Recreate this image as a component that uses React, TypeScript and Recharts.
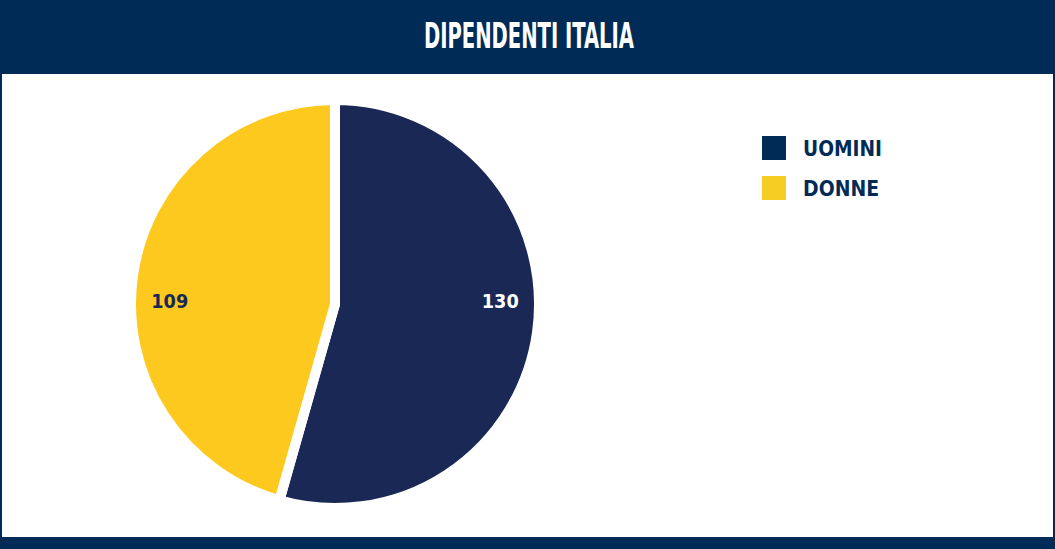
import React from 'react';
import { PieChart, Pie, Cell } from 'recharts';

const title = 'DIPENDENTI ITALIA';
const categories = ['UOMINI', 'DONNE'];
const values = [130, 109];
const sliceColors = ['#1a2856', '#fdc91e'];
const legendColors = ['#002b57', '#f5cd23'];
const labelColors = ['#ffffff', '#1a2856'];

const NAVY = '#002b57';
const FONT = '"DejaVu Sans Condensed", "DejaVu Sans", sans-serif';

const data = categories.map((name, i) => ({ name, value: values[i] }));

const renderLabel = (props: any) => {
  const { cx, cy, midAngle, outerRadius, value, index } = props;
  const side = Math.cos((-midAngle * Math.PI) / 180) >= 0 ? 1 : -1;
  const x = cx + side * outerRadius * 0.81;
  const y = cy - 3;
  return (
    <text
      x={x}
      y={y}
      fill={labelColors[index]}
      textAnchor="middle"
      dominantBaseline="central"
      fontFamily={FONT}
      fontWeight="bold"
      fontSize={20}
      textLength={37}
      lengthAdjust="spacingAndGlyphs"
    >
      {value}
    </text>
  );
};

// legend kept outside the chart so it doesn't push the pie around
const LegendBox = () => (
  <svg style={{ position: 'absolute', left: 762, top: 136 }} width={160} height={80}>
    {categories.map((name, i) => (
      <g key={name} transform={`translate(0, ${i * 40})`}>
        <rect x={0} y={0} width={24} height={24} fill={legendColors[i]} />
        <text
          x={41}
          y={20}
          fill={NAVY}
          fontFamily={FONT}
          fontWeight="bold"
          fontSize={22}
          textLength={i === 0 ? 79 : 76}
          lengthAdjust="spacingAndGlyphs"
        >
          {name}
        </text>
      </g>
    ))}
  </svg>
);

const App: React.FC = () => {
  return (
    <div
      style={{
        position: 'absolute',
        top: 0,
        left: 0,
        width: 1055,
        height: 549,
        background: '#ffffff',
        overflow: 'hidden',
      }}
    >
      {/* frame: header band, side borders, bottom band */}
      <div style={{ position: 'absolute', left: 0, top: 0, width: 1055, height: 74, background: NAVY }} />
      <div style={{ position: 'absolute', left: 0, top: 74, width: 2, height: 475, background: NAVY }} />
      <div style={{ position: 'absolute', right: 0, top: 74, width: 2, height: 475, background: NAVY }} />
      <div style={{ position: 'absolute', left: 0, top: 537, width: 1055, height: 12, background: NAVY }} />
      <svg style={{ position: 'absolute', left: 0, top: 0 }} width={1055} height={74}>
        <text
          x={529}
          y={48}
          fill="#ffffff"
          textAnchor="middle"
          fontFamily={FONT}
          fontWeight="bold"
          fontSize={36}
          textLength={210}
          lengthAdjust="spacingAndGlyphs"
        >
          {title}
        </text>
      </svg>
      <div style={{ position: 'absolute', left: 0, top: 0 }}>
        <PieChart width={1055} height={549} margin={{ top: 0, right: 0, bottom: 0, left: 0 }}>
          <Pie
            data={data}
            dataKey="value"
            nameKey="name"
            cx={335}
            cy={304}
            outerRadius={204}
            startAngle={90}
            endAngle={-270}
            stroke="#ffffff"
            strokeWidth={10}
            label={renderLabel}
            labelLine={false}
            isAnimationActive={false}
          >
            {data.map((d, i) => (
              <Cell key={d.name} fill={sliceColors[i]} />
            ))}
          </Pie>
        </PieChart>
      </div>
      <LegendBox />
    </div>
  );
};

export default App;
